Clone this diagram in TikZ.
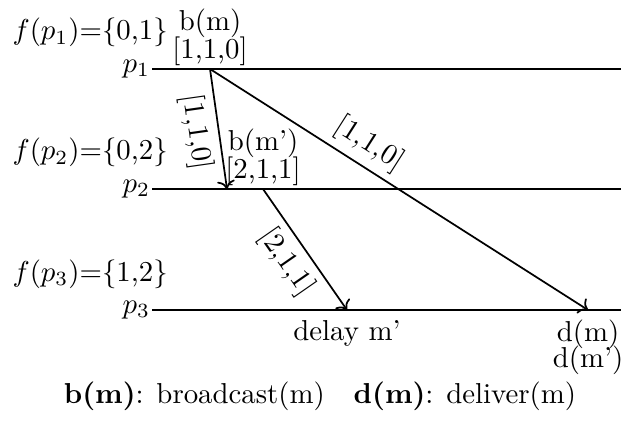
\documentclass[tikz,border=0pt]{standalone}
\usetikzlibrary{arrows.meta}
\begin{document}
\begin{tikzpicture}[x=0.347pt,y=-0.347pt,
  proc/.style={line width=0.7pt},
  msg/.style={->, line width=0.6pt},
  plabel/.style={anchor=east, inner sep=0.5pt},
  flabel/.style={anchor=base west, inner sep=0pt},
  evt/.style={align=center, inner sep=1pt},
  lbl/.style={sloped, inner sep=2.5pt}]
\useasboundingbox (0,0) rectangle (621,421);
% process lines
\coordinate (l1) at (152,69);  \coordinate (r1) at (630,69);
\coordinate (l2) at (152,189); \coordinate (r2) at (630,189);
\coordinate (l3) at (152,310); \coordinate (r3) at (630,310);
\draw[proc] (l1) -- (r1);
\draw[proc] (l2) -- (r2);
\draw[proc] (l3) -- (r3);
\node[plabel] (p1) at (l1) {$p_1$};
\node[plabel] (p2) at (l2) {$p_2$};
\node[plabel] (p3) at (l3) {$p_3$};
\node[flabel] (f1) at (12,40) {$f(p_1)$=\{0,1\}};
\node[flabel] (f2) at (12,160) {$f(p_2)$=\{0,2\}};
\node[flabel] (f3) at (12,281) {$f(p_3)$=\{1,2\}};
% events
\coordinate (s1) at (210,69);
\coordinate (t1) at (227,189);
\coordinate (t2) at (588,310);
\coordinate (s2) at (263,189);
\coordinate (t3) at (347,310);
\draw[msg] (s1) -- node[lbl, below, pos=0.5] (m1) {[1,1,0]} (t1);
\draw[msg] (s1) -- node[lbl, above, pos=0.39] (m2) {[1,1,0]} (t2);
\draw[msg] (s2) -- node[lbl, below, pos=0.5] (m3) {[2,1,1]} (t3);
\node[evt, anchor=south] (bm) at (s1) {b(m)\\[-2.5pt]{}[1,1,0]};
\node[evt, anchor=south] (bm2) at (s2) {b(m')\\[-2.5pt]{}[2,1,1]};
\node[anchor=north] (delay) at (t3) {delay m'};
\node[align=center, anchor=north] (dm) at (t2) {d(m)\\[-3pt]d(m')};
% legend
\node[anchor=base] (legend) at (320,403) {\textbf{b(m)}: broadcast(m)\quad \textbf{d(m)}: deliver(m)};
\end{tikzpicture}
\end{document}
